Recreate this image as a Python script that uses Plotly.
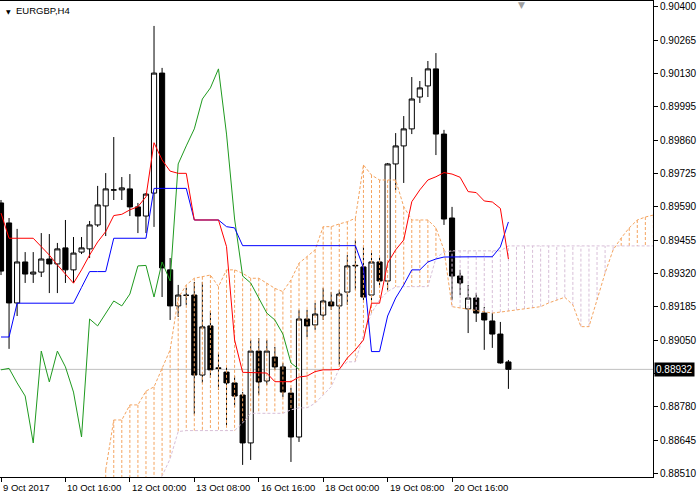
import plotly.graph_objects as go

symbol = "EURGBP,H4"

# Bar index 0 = 9 Oct 2017 08:00 (H4 bars)
bar_index = list(range(64))
open_ = [0.89606, 0.89525, 0.89201, 0.89367, 0.89318, 0.89326, 0.89379, 0.89359, 0.89424, 0.89335,
         0.89407, 0.89420, 0.89517, 0.89594, 0.89658, 0.89659, 0.89663, 0.89590, 0.89553, 0.89646,
         0.90132, 0.89335, 0.89189, 0.89232, 0.89233, 0.88909, 0.89108, 0.88938, 0.88921, 0.88877,
         0.88828, 0.88634, 0.89006, 0.88885, 0.88982, 0.88942, 0.88836, 0.88658, 0.89136, 0.89112,
         0.89152, 0.89205, 0.89189, 0.89245, 0.89351, 0.89347, 0.89233, 0.89367, 0.89290, 0.89764,
         0.89837, 0.89906, 0.90035, 0.90080, 0.90149, 0.89885, 0.89545, 0.89310, 0.89177, 0.89221,
         0.89160, 0.89128, 0.89075, 0.88962]
high = [0.89618, 0.89545, 0.89501, 0.89407, 0.89407, 0.89484, 0.89480, 0.89444, 0.89537, 0.89468,
        0.89468, 0.89533, 0.89675, 0.89727, 0.89873, 0.89711, 0.89723, 0.89606, 0.89646, 0.90323,
        0.90153, 0.89383, 0.89274, 0.89262, 0.89286, 0.89286, 0.89168, 0.88998, 0.88942, 0.88905,
        0.88840, 0.89051, 0.89059, 0.89051, 0.89023, 0.88958, 0.88857, 0.89173, 0.89173, 0.89201,
        0.89262, 0.89245, 0.89254, 0.89395, 0.89456, 0.89428, 0.89403, 0.89387, 0.89768, 0.89889,
        0.89958, 0.90116, 0.90100, 0.90181, 0.90213, 0.89902, 0.89590, 0.89335, 0.89274, 0.89241,
        0.89185, 0.89160, 0.89124, 0.88970]
low = [0.89314, 0.89015, 0.89148, 0.89282, 0.89282, 0.89306, 0.89241, 0.89241, 0.89282, 0.89282,
       0.89399, 0.89383, 0.89509, 0.89472, 0.89618, 0.89618, 0.89553, 0.89484, 0.89484, 0.89509,
       0.89225, 0.89132, 0.89144, 0.89193, 0.88750, 0.88877, 0.88897, 0.88849, 0.88705, 0.88780,
       0.88545, 0.88565, 0.88828, 0.88869, 0.88930, 0.88820, 0.88557, 0.88638, 0.89063, 0.89092,
       0.89132, 0.89173, 0.88950, 0.89193, 0.89254, 0.89213, 0.89201, 0.89266, 0.89254, 0.89659,
       0.89687, 0.89885, 0.90011, 0.90035, 0.89800, 0.89517, 0.89213, 0.89233, 0.89079, 0.89124,
       0.89011, 0.89019, 0.88955, 0.88853]
close = [0.89330, 0.89201, 0.89367, 0.89318, 0.89326, 0.89379, 0.89359, 0.89420, 0.89335, 0.89403,
         0.89424, 0.89517, 0.89598, 0.89663, 0.89659, 0.89667, 0.89590, 0.89553, 0.89642, 0.90132,
         0.89343, 0.89189, 0.89233, 0.89232, 0.88909, 0.89104, 0.88930, 0.88936, 0.88877, 0.88824,
         0.88634, 0.89006, 0.88881, 0.89006, 0.88942, 0.88840, 0.88658, 0.89136, 0.89108, 0.89156,
         0.89209, 0.89189, 0.89237, 0.89351, 0.89353, 0.89225, 0.89367, 0.89290, 0.89764, 0.89837,
         0.89906, 0.90027, 0.90072, 0.90149, 0.89885, 0.89541, 0.89310, 0.89282, 0.89221, 0.89160,
         0.89132, 0.89075, 0.88958, 0.88932]

tenkan = [0.89565, 0.89463, 0.89463, 0.89463, 0.89463, 0.89429, 0.89395, 0.89355, 0.89318, 0.89281,
          0.89335, 0.89395, 0.89448, 0.89490, 0.89555, 0.89560, 0.89578, 0.89591, 0.89631, 0.89850,
          0.89780, 0.89735, 0.89726, 0.89726, 0.89537, 0.89537, 0.89537, 0.89537, 0.89429, 0.89051,
          0.88920, 0.88919, 0.88919, 0.88917, 0.88882, 0.88882, 0.88882, 0.88901, 0.88905, 0.88923,
          0.88930, 0.88930, 0.88932, 0.88978, 0.89011, 0.89051, 0.89200, 0.89200, 0.89362, 0.89416,
          0.89456, 0.89611, 0.89659, 0.89699, 0.89712, 0.89729, 0.89723, 0.89710, 0.89652, 0.89648,
          0.89614, 0.89610, 0.89584, 0.89379]
kijun = [0.89063, 0.89063, 0.89200, 0.89200, 0.89200, 0.89200, 0.89200, 0.89200, 0.89200, 0.89200,
         0.89264, 0.89328, 0.89328, 0.89328, 0.89463, 0.89463, 0.89463, 0.89463, 0.89463, 0.89665,
         0.89665, 0.89665, 0.89665, 0.89665, 0.89537, 0.89537, 0.89537, 0.89537, 0.89510, 0.89505,
         0.89433, 0.89433, 0.89433, 0.89433, 0.89433, 0.89433, 0.89433, 0.89433, 0.89433, 0.89433,
         0.89433, 0.89433, 0.89433, 0.89433, 0.89433, 0.89343, 0.89004, 0.89004, 0.89148, 0.89221,
         0.89274, 0.89335, 0.89335, 0.89367, 0.89379, 0.89387, 0.89388, 0.89388, 0.89388, 0.89388,
         0.89388, 0.89388, 0.89428, 0.89529]

chikou_shift = 26

# Cloud (Senkou spans), starting at bar 13 and running 26 bars past the last candle
cloud_start = 13
span_a = [0.88525, 0.88727, 0.88727, 0.88788, 0.88788, 0.88844, 0.88861, 0.88938, 0.89011, 0.89220,
          0.89274, 0.89301, 0.89307, 0.89314, 0.89267, 0.89335, 0.89335, 0.89321, 0.89301, 0.89301,
          0.89281, 0.89260, 0.89247, 0.89294, 0.89362, 0.89388, 0.89416, 0.89510, 0.89510, 0.89521,
          0.89530, 0.89544, 0.89760, 0.89719, 0.89699, 0.89699, 0.89699, 0.89591, 0.89537, 0.89537,
          0.89537, 0.89505, 0.89416, 0.89186, 0.89181, 0.89177, 0.89173, 0.89168, 0.89160, 0.89164,
          0.89168, 0.89173, 0.89177, 0.89181, 0.89186, 0.89201, 0.89213, 0.89224, 0.89193, 0.89105,
          0.89105, 0.89213, 0.89322, 0.89416, 0.89464, 0.89505, 0.89537, 0.89549, 0.89557]
span_b = [0.88420, 0.88420, 0.88420, 0.88420, 0.88420, 0.88420, 0.88460, 0.88500, 0.88570, 0.88680,
          0.88684, 0.88684, 0.88684, 0.88684, 0.88684, 0.88684, 0.88684, 0.88715, 0.88754, 0.88754,
          0.88754, 0.88754, 0.88754, 0.88768, 0.88776, 0.88776, 0.88795, 0.88828, 0.88862, 0.88936,
          0.88962, 0.88963, 0.89071, 0.89160, 0.89213, 0.89247, 0.89266, 0.89267, 0.89267, 0.89267,
          0.89267, 0.89383, 0.89407, 0.89412, 0.89412, 0.89412, 0.89412, 0.89412, 0.89412, 0.89412,
          0.89432, 0.89432, 0.89432, 0.89432, 0.89432, 0.89432, 0.89432, 0.89432, 0.89432, 0.89432,
          0.89432, 0.89432, 0.89432, 0.89432, 0.89432, 0.89432, 0.89432, 0.89432, 0.89432]

x_tick_bars = [0, 8, 16, 24, 32, 40, 48, 56]
x_tick_labels = ["9 Oct 2017", "10 Oct 16:00", "12 Oct 00:00", "13 Oct 08:00",
                 "16 Oct 16:00", "18 Oct 00:00", "19 Oct 08:00", "20 Oct 16:00"]
y_ticks = [0.90400, 0.90265, 0.90130, 0.89995, 0.89860, 0.89725, 0.89590, 0.89455,
           0.89320, 0.89185, 0.89050, 0.88915, 0.88780, 0.88645, 0.88510]

SANDY = "#F4A460"
THISTLE = "#D8BFD8"
FONT = "Liberation Sans"

fig = go.Figure()

# Candles
fig.add_trace(go.Candlestick(
    x=bar_index, open=open_, high=high, low=low, close=close,
    increasing=dict(line=dict(color="black", width=1), fillcolor="white"),
    decreasing=dict(line=dict(color="black", width=1), fillcolor="black"),
    whiskerwidth=0, hoverinfo="skip", showlegend=False,
))

# Cloud histogram (vertical dotted lines)
cloud_bars = list(range(cloud_start, cloud_start + len(span_a)))
seg = {"up": ([], []), "down": ([], [])}
for k, a, b in zip(cloud_bars, span_a, span_b):
    key = "up" if a >= b else "down"
    seg[key][0].extend([k, k, None])
    seg[key][1].extend([a, b, None])
for key, col in (("up", SANDY), ("down", THISTLE)):
    fig.add_trace(go.Scatter(x=seg[key][0], y=seg[key][1], mode="lines",
                             line=dict(color=col, width=1, dash="3px,2px"),
                             hoverinfo="skip", showlegend=False))
fig.add_trace(go.Scatter(x=cloud_bars, y=span_b, mode="lines",
                         line=dict(color=THISTLE, width=1, dash="3px,2px"),
                         hoverinfo="skip", showlegend=False))
fig.add_trace(go.Scatter(x=cloud_bars, y=span_a, mode="lines",
                         line=dict(color=SANDY, width=1, dash="3px,2px"),
                         hoverinfo="skip", showlegend=False))

# Chikou span: close shifted back
fig.add_trace(go.Scatter(x=[k - chikou_shift for k in bar_index[chikou_shift:]],
                         y=close[chikou_shift:], mode="lines",
                         line=dict(color="#1f9a1f", width=1),
                         hoverinfo="skip", showlegend=False))
# Kijun
fig.add_trace(go.Scatter(x=bar_index, y=kijun, mode="lines",
                         line=dict(color="#0000ff", width=1),
                         hoverinfo="skip", showlegend=False))
# Tenkan
fig.add_trace(go.Scatter(x=bar_index, y=tenkan, mode="lines",
                         line=dict(color="#ff0000", width=1),
                         hoverinfo="skip", showlegend=False))

last = close[-1]
fig.add_shape(type="line", xref="paper", x0=0, x1=1, y0=last, y1=last,
              line=dict(color="#c0c0c0", width=1), layer="below")

# tick labels hidden behind the current-price marker are left blank
y_tick_text = ["" if abs(v - last) < 0.0003 else f"{v:.5f}" for v in y_ticks]

annotations = []
for k, lab in zip(x_tick_bars, x_tick_labels):
    annotations.append(dict(x=k, y=0, xref="x", yref="paper", text=lab, showarrow=False,
                            xanchor="left", yanchor="top", xshift=0, yshift=-3,
                            font=dict(family=FONT, size=9.5, color="black")))
annotations.append(dict(x=1, y=last, xref="paper", yref="y", text=f"{last:.5f}",
                        showarrow=False, xanchor="left", yanchor="middle", xshift=1,
                        bgcolor="black", borderpad=1,
                        font=dict(family=FONT, size=10, color="white")))
annotations.append(dict(x=0, y=1, xref="paper", yref="paper", text="▼", showarrow=False,
                        xanchor="left", yanchor="top", xshift=4, yshift=-5,
                        font=dict(family="DejaVu Sans", size=6, color="black")))
annotations.append(dict(x=0, y=1, xref="paper", yref="paper", text=symbol, showarrow=False,
                        xanchor="left", yanchor="top", xshift=14, yshift=-2,
                        font=dict(family=FONT, size=9.5, color="black")))
annotations.append(dict(x=521 / 653, y=1, xref="paper", yref="paper", text="▼", showarrow=False,
                        xanchor="center", yanchor="top", yshift=3,
                        font=dict(family="DejaVu Sans", size=9, color="#a0a0a0")))

fig.update_layout(
    width=700, height=497,
    margin=dict(l=0, r=47, t=1, b=20),
    paper_bgcolor="white", plot_bgcolor="white",
    showlegend=False, hovermode=False,
    boxgap=0.2, boxgroupgap=0.2,
    annotations=annotations,
    xaxis=dict(range=[-0.124, 80.95], showgrid=False, zeroline=False,
               showline=True, mirror=True, linecolor="black", linewidth=1,
               tickvals=x_tick_bars, ticks="outside", ticklen=4, tickcolor="black",
               showticklabels=False, rangeslider=dict(visible=False), fixedrange=True),
    yaxis=dict(range=[0.88496, 0.90424], side="right", showgrid=False, zeroline=False,
               showline=True, mirror=True, linecolor="black", linewidth=1,
               tickvals=y_ticks, ticktext=y_tick_text,
               ticks="outside", ticklen=4, tickcolor="black",
               tickfont=dict(family=FONT, size=10, color="black"), fixedrange=True),
)

fig.write_html("out.html", config={"displayModeBar": False},
               post_script="document.body.style.margin='0';document.body.style.overflow='hidden';")
